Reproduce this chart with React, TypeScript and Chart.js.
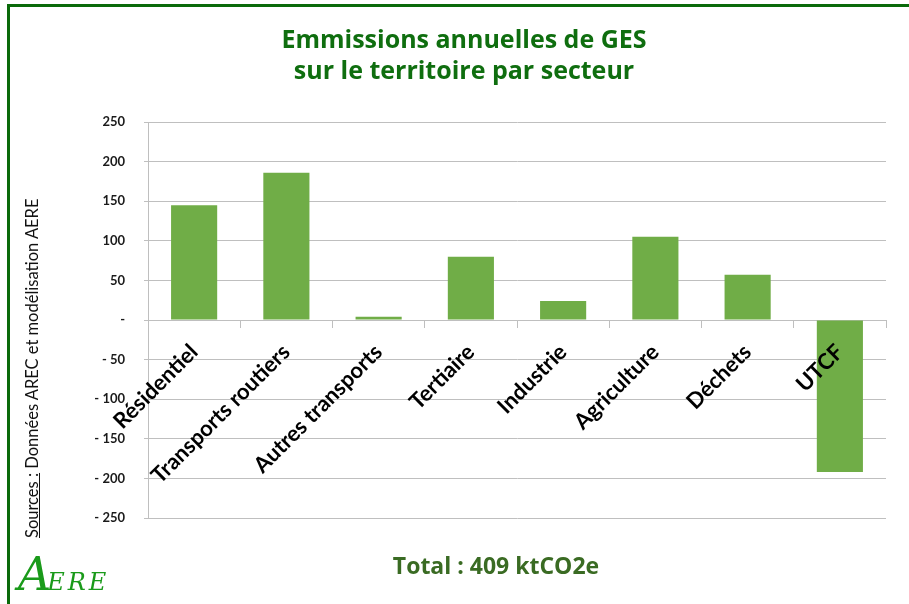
import React, { useEffect, useRef } from "react";
import { Chart, registerables } from "chart.js";

Chart.register(...registerables);

const categories = [
  "Résidentiel",
  "Transports routiers",
  "Autres transports",
  "Tertiaire",
  "Industrie",
  "Agriculture",
  "Déchets",
  "UTCF",
];
const emissions = [145, 186, 4, 80, 24, 105, 57, -192];
const yMin = -250;
const yMax = 250;
const yStep = 50;

const titleLines = ["Emmissions annuelles de GES", "sur le territoire par secteur"];
const totalText = "Total : 409 ktCO2e";

export default function App() {
  const ref = useRef<HTMLCanvasElement | null>(null);

  useEffect(() => {
    document.body.style.margin = "0";
    const ctx = ref.current!.getContext("2d")!;
    const chart = new Chart(ctx, {
      type: "bar",
      data: {
        labels: categories,
        datasets: [
          {
            data: emissions,
            backgroundColor: "#70ad47",
            borderWidth: 0,
            barPercentage: 0.5,
            categoryPercentage: 1,
          },
        ],
      },
      options: {
        animation: false,
        responsive: false,
        maintainAspectRatio: false,
        layout: { padding: { top: 122, right: 23, bottom: 86, left: 0 } },
        plugins: { legend: { display: false }, tooltip: { enabled: false }, title: { display: false } },
        scales: {
          x: {
            position: { y: 0 } as any,
            afterFit: (s: any) => {
              s.height = 0;
              s.paddingLeft = 0;
              s.paddingRight = 0;
              s.paddingTop = 0;
              s.paddingBottom = 0;
            },
            grid: {
              display: true,
              drawOnChartArea: false,
              drawTicks: true,
              tickLength: 7,
              color: "#bfbfbf",
              offset: true,
            },
            border: { display: true, color: "#bfbfbf" },
            ticks: {
              z: 1,
              autoSkip: false,
              maxRotation: 45,
              minRotation: 45,
              padding: 12,
              color: "#000000",
              font: { family: "Lato", weight: "bold", size: 22 },
            },
          },
          y: {
            min: yMin,
            max: yMax,
            afterFit: (s: any) => {
              s.width = 148;
              s.paddingTop = 0;
              s.paddingBottom = 0;
            },
            grid: { color: "#bfbfbf", tickLength: 4, drawTicks: true },
            border: { display: true, color: "#bfbfbf" },
            ticks: {
              stepSize: yStep,
              padding: 19,
              color: "#1a1a1a",
              font: { family: "Lato", weight: "bold", size: 13 },
              callback: (v: any) => {
                const n = Number(v);
                if (n === 0) return "-";
                if (n < 0) return "- " + Math.abs(n);
                return String(n);
              },
            },
          },
        },
      },
    });
    return () => chart.destroy();
  }, []);

  return (
    <div style={{ position: "absolute", left: 0, top: 0, width: 909, height: 604, background: "#fff", overflow: "hidden" }}>
      <canvas ref={ref} width={909} height={604} style={{ position: "absolute", left: 0, top: 0, width: 909, height: 604 }} />
      <div style={{ position: "absolute", left: 7, top: 4, width: 902, height: 3, background: "#0a6a0a" }} />
      <div style={{ position: "absolute", left: 7, top: 4, width: 3, height: 600, background: "#0a6a0a" }} />
      <div
        style={{
          position: "absolute",
          left: 164,
          top: 23,
          width: 600,
          textAlign: "center",
          fontFamily: "'Open Sans', sans-serif",
          fontWeight: "bold",
          fontSize: 25,
          lineHeight: "31px",
          color: "#0f6e0f",
        }}
      >
        <div>{titleLines[0]}</div>
        <div>{titleLines[1]}</div>
      </div>
      <div
        style={{
          position: "absolute",
          left: 296,
          top: 549,
          width: 400,
          textAlign: "center",
          fontFamily: "'Open Sans', sans-serif",
          fontWeight: "bold",
          fontSize: 23,
          lineHeight: "32px",
          color: "#3a6b23",
        }}
      >
        {totalText}
      </div>
      <div
        style={{
          position: "absolute",
          left: 32 - 180,
          top: 358 - 10,
          width: 360,
          height: 20,
          lineHeight: "20px",
          transform: "rotate(-90deg)",
          transformOrigin: "center",
          whiteSpace: "nowrap",
          fontFamily: "Lato, sans-serif",
          fontSize: 16.5,
          color: "#111",
        }}
      >
        <span style={{ textDecoration: "underline" }}>Sources :</span> Données AREC et modélisation AERE
      </div>
      <div
        style={{
          position: "absolute",
          left: 18,
          top: 550,
          height: 48,
          whiteSpace: "nowrap",
          fontFamily: "'DejaVu Serif', serif",
          fontStyle: "italic",
          color: "#1a9a1a",
        }}
      >
        <span style={{ fontSize: 46, lineHeight: "48px" }}>A</span>
        <span style={{ fontSize: 24, letterSpacing: 3, marginLeft: -4 }}>ERE</span>
      </div>
    </div>
  );
}
